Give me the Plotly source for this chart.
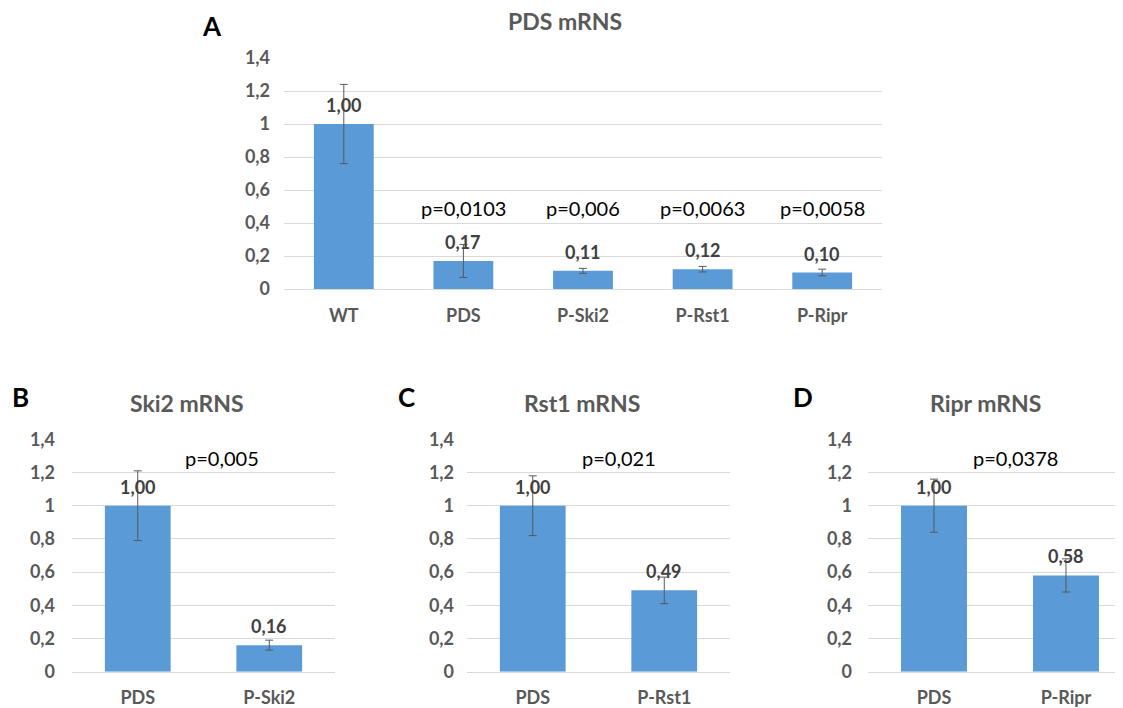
import plotly.graph_objects as go

W, H = 1123, 708
OFF = 8  # page body margin compensation

# ---------------- data ----------------
A_cats = ["WT", "PDS", "P-Ski2", "P-Rst1", "P-Ripr"]
A_vals = [1.00, 0.17, 0.11, 0.12, 0.10]
A_err = [0.24, 0.10, 0.015, 0.017, 0.02]
A_p = ["", "p=0,0103", "p=0,006", "p=0,0063", "p=0,0058"]

B_cats = ["PDS", "P-Ski2"]
B_vals = [1.00, 0.16]
B_err = [0.21, 0.03]
B_p = "p=0,005"

C_cats = ["PDS", "P-Rst1"]
C_vals = [1.00, 0.49]
C_err = [0.18, 0.08]
C_p = "p=0,021"

D_cats = ["PDS", "P-Ripr"]
D_vals = [1.00, 0.58]
D_err = [0.16, 0.10]
D_p = "p=0,0378"

titles = ["PDS mRNS", "Ski2 mRNS", "Rst1 mRNS", "Ripr mRNS"]
letters = ["A", "B", "C", "D"]

# ---------------- style ----------------
FONT = "Lato, Carlito, Calibri, sans-serif"
BAR = "#5a9ad7"
GREY = "#595959"
GRID = "#d9d9d9"


def px(x):
    return (x - OFF) / W


def py(y):
    return 1 - (y - OFF) / H


panels = [
    dict(cats=A_cats, vals=A_vals, err=A_err, so=13,
         xdom=[px(284), px(882)], ydom=[py(289), py(58)], xr=[-0.5, 4.5]),
    dict(cats=B_cats, vals=B_vals, err=B_err, so=16,
         xdom=[px(72), px(335)], ydom=[py(671.7), py(439.3)], xr=[-0.5, 1.5]),
    dict(cats=C_cats, vals=C_vals, err=C_err, so=12,
         xdom=[px(467), px(730)], ydom=[py(671.7), py(439.3)], xr=[-0.5, 1.5]),
    dict(cats=D_cats, vals=D_vals, err=D_err, so=15,
         xdom=[px(868), px(1123)], ydom=[py(671.7), py(439.3)], xr=[-0.5, 1.432]),
]

fig = go.Figure()
annotations = []

for i, p in enumerate(panels):
    sfx = "" if i == 0 else str(i + 1)
    fig.add_trace(go.Bar(
        x=list(range(len(p["cats"]))), y=p["vals"],
        xaxis="x" + sfx, yaxis="y" + sfx,
        marker=dict(color=BAR, line=dict(width=0)),
        error_y=dict(type="data", array=p["err"], color=GREY, thickness=1, width=4),
        showlegend=False, hoverinfo="skip",
    ))
    fig.layout["xaxis" + sfx] = dict(
        domain=p["xdom"], anchor="y" + sfx, range=p["xr"],
        tickmode="array", tickvals=list(range(len(p["cats"]))), ticktext=p["cats"],
        showgrid=False, zeroline=False, showline=True, linecolor=GRID, linewidth=1,
        ticks="", ticklabelstandoff=10, automargin=False,
        tickfont=dict(family=FONT, size=18, color=GREY, weight="bold"),
        fixedrange=True,
    )
    fig.layout["yaxis" + sfx] = dict(
        domain=p["ydom"], anchor="x" + sfx, range=[0, 1.4], dtick=0.2, tick0=0,
        showgrid=True, gridcolor=GRID, gridwidth=1, zeroline=False, showline=False,
        ticks="", ticklabelstandoff=p["so"], automargin=False,
        tickfont=dict(family=FONT, size=18, color=GREY, weight="bold"),
        fixedrange=True,
    )
    for j, v in enumerate(p["vals"]):
        annotations.append(dict(
            x=j, y=v, xref="x" + sfx, yref="y" + sfx,
            text=f"{v:.2f}".replace(".", ","), showarrow=False,
            yanchor="middle", yshift=19,
            font=dict(family=FONT, size=18, color="#404040", weight="bold"),
        ))

for j, t in enumerate(A_p):
    if t:
        annotations.append(dict(x=j, y=0.49, xref="x", yref="y", text=t, showarrow=False,
                                yanchor="middle",
                                font=dict(family=FONT, size=20, color="#000000")))
for sfx, t, xp in [("2", B_p, 0.64), ("3", C_p, 0.656), ("4", D_p, 0.62)]:
    annotations.append(dict(x=xp, y=1.287, xref="x" + sfx, yref="y" + sfx, text=t,
                            showarrow=False, yanchor="middle",
                            font=dict(family=FONT, size=20, color="#000000")))

title_pos = [(565, 21), (187, 403), (582, 403), (985, 403)]
letter_pos = [(212, 26), (20, 397), (406, 397), (803, 397)]
for t, (x, y) in zip(titles, title_pos):
    annotations.append(dict(x=px(x), y=py(y), xref="paper", yref="paper", text=t,
                            showarrow=False, xanchor="center", yanchor="middle",
                            font=dict(family=FONT, size=23, color=GREY, weight="bold")))
for t, (x, y) in zip(letters, letter_pos):
    annotations.append(dict(x=px(x), y=py(y), xref="paper", yref="paper", text=t,
                            showarrow=False, xanchor="center", yanchor="middle",
                            font=dict(family=FONT, size=26, color="#000000", weight="bold")))

fig.update_layout(
    width=W, height=H, margin=dict(l=0, r=0, t=0, b=0, autoexpand=False),
    paper_bgcolor="white", plot_bgcolor="white",
    bargap=0.5, separators=",.",
    annotations=annotations,
    font=dict(family=FONT),
)

fig.write_html("out.html")
